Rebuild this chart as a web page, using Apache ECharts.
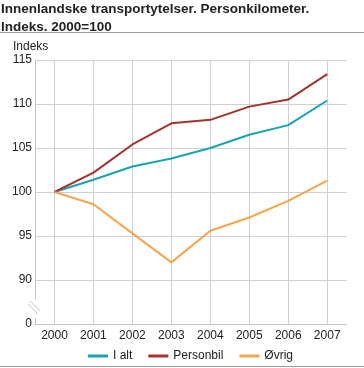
<!DOCTYPE html>
<html><head><meta charset="utf-8">
<script src="https://cdn.jsdelivr.net/npm/echarts@6/dist/echarts.min.js"></script>
<style>html,body{margin:0;padding:0;background:#fff}#c{width:364px;height:368px}</style>
</head><body><div id="c"></div>
<script>
var years = ['2000','2001','2002','2003','2004','2005','2006','2007'];
var iAlt = [100, 101.4, 102.9, 103.8, 105.0, 106.5, 107.6, 110.4];
var personbil = [100, 102.2, 105.4, 107.8, 108.2, 109.7, 110.5, 113.4];
var ovrig = [100, 98.6, 95.3, 92.0, 95.6, 97.1, 99.0, 101.3];
var yTicks = [85, 90, 95, 100, 105, 110, 115];

var chart = echarts.init(document.getElementById('c'), null, {renderer:'canvas'});
var font = 'Liberation Sans, Arial, sans-serif';
var option = {
  animation: false,
  textStyle: {fontFamily: font},
  title: {
    text: 'Innenlandske transportytelser. Personkilometer.\nIndeks. 2000=100',
    left: 1, top: 0, padding: [0, 0, 0, 0],
    textStyle: {fontSize: 13.5, fontWeight: 'bold', color: '#222', lineHeight: 18, fontFamily: font}
  },
  grid: {left: 35, right: 17.3, top: 60, bottom: 44},
  legend: {
    top: 350, left: 88, itemWidth: 20, itemHeight: 3, itemGap: 16,
    icon: 'rect', padding: 0,
    textStyle: {fontSize: 12, color: '#222', fontFamily: font},
    data: ['I alt', 'Personbil', 'Øvrig']
  },
  xAxis: {
    type: 'category', data: years, boundaryGap: true,
    axisLine: {lineStyle: {color: '#c4c4cc', width: 1}},
    axisTick: {show: false},
    axisLabel: {color: '#222', fontSize: 12, margin: 6, fontFamily: font},
    splitLine: {show: true, alignWithLabel: true, lineStyle: {color: '#cfcfd6', width: 1}}
  },
  yAxis: {
    type: 'value', min: 85, max: 115, interval: 5,
    name: 'Indeks', nameLocation: 'end', nameGap: 7,
    nameTextStyle: {color: '#222', fontSize: 12, align: 'left', padding: [0,0,0,-22], fontFamily: font},
    axisLine: {show: true, lineStyle: {color: '#c4c4cc', width: 1}},
    axisTick: {show: false},
    axisLabel: {color: '#222', fontSize: 12, margin: 3, fontFamily: font,
      formatter: function(v){ return v === yTicks[0] ? '0' : String(v); }},
    splitLine: {show: true, lineStyle: {color: '#cfcfd6', width: 1}}
  },
  series: [
    {name: 'I alt', type: 'line', data: iAlt, symbol: 'none', lineStyle: {width: 2, color: '#1aa3b5'}, itemStyle: {color: '#1aa3b5'}},
    {name: 'Personbil', type: 'line', data: personbil, symbol: 'none', lineStyle: {width: 2, color: '#a6322c'}, itemStyle: {color: '#a6322c'}},
    {name: 'Øvrig', type: 'line', data: ovrig, symbol: 'none', lineStyle: {width: 2, color: '#f7a54c'}, itemStyle: {color: '#f7a54c'}}
  ]
};
chart.setOption(option);

// decorations: separator lines and axis break marks
var pTop = chart.convertToPixel({gridIndex: 0}, [0, 86.8]);
var pBot = chart.convertToPixel({gridIndex: 0}, [0, 85.7]);
var xA = chart.getModel().getComponent('grid').coordinateSystem.getRect().x;
var yt = pTop[1], ybt = pBot[1];
chart.setOption({
  graphic: [
    {type: 'line', shape: {x1: 0, y1: 32.5, x2: 364, y2: 32.5}, style: {stroke: '#9a9a9a', lineWidth: 1}},
    {type: 'line', shape: {x1: 0, y1: 366.5, x2: 364, y2: 366.5}, style: {stroke: '#9a9a9a', lineWidth: 1}},
    {type: 'rect', shape: {x: xA - 3, y: yt - 9, width: 6, height: (ybt - yt) + 9}, style: {fill: '#fff'}, z: 100},
    {type: 'line', shape: {x1: xA - 5, y1: yt - 7, x2: xA + 5, y2: yt + 3}, style: {stroke: '#c0c0c8', lineWidth: 1}, z: 101},
    {type: 'line', shape: {x1: xA - 7, y1: yt - 4, x2: xA + 3, y2: yt + 6}, style: {stroke: '#c0c0c8', lineWidth: 1}, z: 101}
  ]
});
</script>
</body></html>
